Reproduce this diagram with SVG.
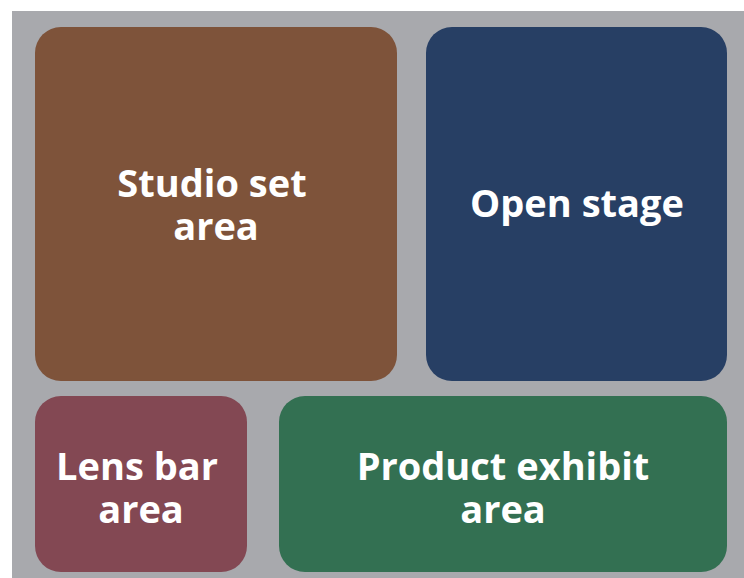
<svg xmlns="http://www.w3.org/2000/svg" width="744" height="578" viewBox="0 0 744 578">
<style>
.lbl{font-family:"Open Sans","Noto Sans","Liberation Sans",sans-serif;font-weight:bold;font-size:38px;fill:#ffffff;text-anchor:middle}
</style>
<rect x="0" y="0" width="744" height="578" fill="#ffffff"/>
<rect x="12" y="11" width="732" height="567" fill="#A8A9AD"/>
<g id="studio">
<rect x="35" y="27" width="362" height="354" rx="26" fill="#7E533A"/>
<text class="lbl" x="212" y="197">Studio set</text>
<text class="lbl" x="216" y="240">area</text>
</g>
<g id="open-stage">
<rect x="426" y="27" width="301" height="354" rx="26" fill="#273F64"/>
<text class="lbl" x="577" y="217">Open stage</text>
</g>
<g id="lens-bar">
<rect x="35" y="396" width="212" height="176" rx="26" fill="#834853"/>
<text class="lbl" x="137" y="480">Lens bar</text>
<text class="lbl" x="141" y="523">area</text>
</g>
<g id="product">
<rect x="279" y="396" width="448" height="176" rx="26" fill="#337052"/>
<text class="lbl" x="503" y="480">Product exhibit</text>
<text class="lbl" x="503" y="523">area</text>
</g>
<g id="connectors"/>
</svg>
